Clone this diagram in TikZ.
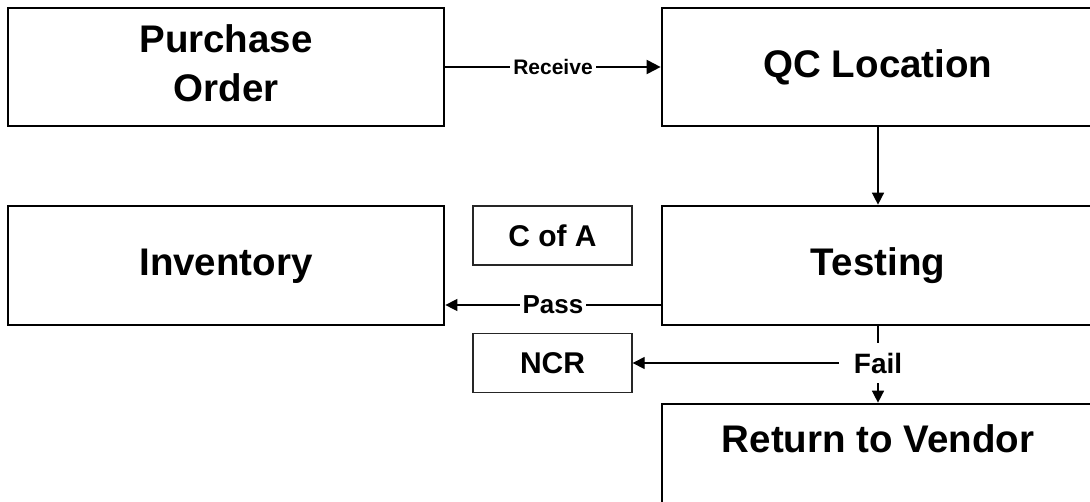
\documentclass[tikz,border=0pt]{standalone}
\usepackage{fontspec}
\setmainfont{Liberation Sans}
\usetikzlibrary{arrows.meta}
\begin{document}
\begin{tikzpicture}[x=1pt,y=-1pt,
  bigbox/.style={draw, line width=2.7pt, minimum width=432pt, inner sep=0pt,
    text height=28pt, text depth=8pt,
    font=\fontsize{38.5}{49}\selectfont\bfseries},
  smallbox/.style={draw=black!85, line width=1.3pt, minimum width=159pt,
    minimum height=59pt, inner sep=0pt, font=\fontsize{30}{36}\selectfont\bfseries},
  conn/.style={line width=1.5pt, -{Triangle[length=12pt,width=12pt]}},
  lbl/.style={fill=white, inner xsep=3pt, inner ysep=0pt}
]
\useasboundingbox (0,0) rectangle (1090,501);
\clip (0,0) rectangle (1090,501);
\fill[white] (0,0) rectangle (1090,501);

\node[bigbox, minimum width=436pt, minimum height=118pt, text height=77pt, text depth=9pt] (po) at (226,67)
  {\begin{tabular}[b]{@{}c@{}}Purchase\\Order\end{tabular}};
\node[bigbox, minimum height=118pt] (qc) at (878,67) {QC Location};
\node[bigbox, minimum width=436pt, minimum height=119pt] (inv) at (226,265.5) {Inventory};
\node[bigbox, minimum height=119pt] (test) at (878,265.5) {Testing};
\node[smallbox] (coa) at (552.5,235.5) {C of A};
\node[smallbox] (ncr) at (552.5,363) {NCR};
\node[bigbox, minimum height=110pt, text height=28pt, text depth=42pt] (rtv) at (878,459) {Return to Vendor};

\node[inner sep=0pt, minimum width=78pt, minimum height=40pt,
  font=\fontsize{28}{34}\selectfont\bfseries] (fail) at (878,363) {Fail};
\coordinate (pp) at (0,305);

\draw[conn, line width=2pt, -{Triangle[length=14pt,width=14pt]}] (po) --
  node[lbl, font=\fontsize{21}{25}\selectfont\bfseries] (rcv) {Receive} (qc);
\draw[conn] (qc.south) -- (test.north);
\draw[conn, line width=1.2pt] (test.west |- pp) --
  node[lbl, font=\fontsize{26}{31}\selectfont\bfseries] (pass) {Pass} (inv.east |- pp);
\draw[line width=2pt] (test.south) -- (fail.north);
\draw[conn] (fail.south) -- (rtv.north);
\draw[conn, line width=1.2pt] (fail.west) -- (ncr.east);
\end{tikzpicture}
\end{document}
